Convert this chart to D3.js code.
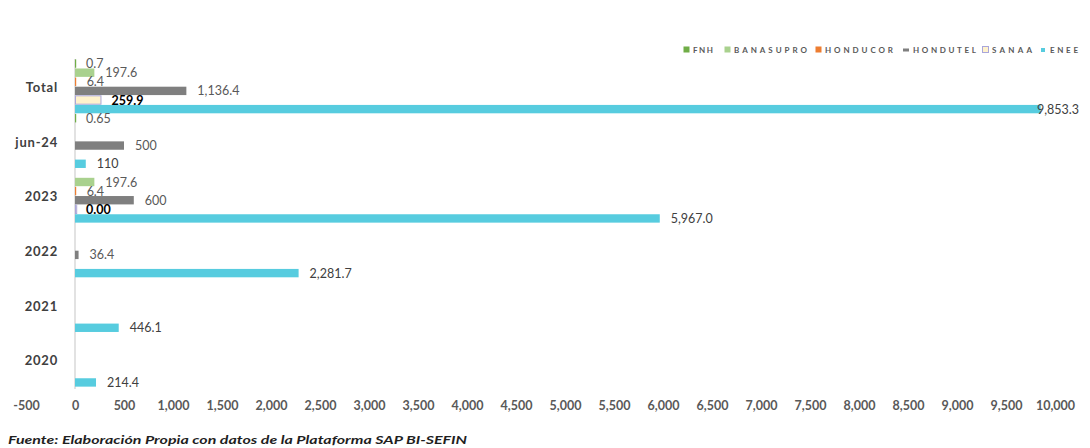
<!DOCTYPE html>
<html><head><meta charset="utf-8">
<script src="https://cdn.jsdelivr.net/npm/d3@7"></script>
<style>
html,body{margin:0;padding:0;background:#fff;}
svg{display:block;font-family:Lato,"Open Sans",sans-serif;}
</style></head>
<body>
<svg id="chart" width="1090" height="448"></svg>
<script>
const categories = ["Total","jun-24","2023","2022","2021","2020"];
const seriesNames = ["FNH","BANASUPRO","HONDUCOR","HONDUTEL","SANAA","ENEE"];
const FNH       = [0.7, 0.65, null, null, null, null];
const BANASUPRO = [197.6, null, 197.6, null, null, null];
const HONDUCOR  = [6.4, null, 6.4, null, null, null];
const HONDUTEL  = [1136.4, 500, 600, 36.4, null, null];
const SANAA     = [259.9, null, 0.0, null, null, null];
const ENEE      = [9853.3, 110, 5967.0, 2281.7, 446.1, 214.4];
const FNHLabels       = ["0.7","0.65","","","",""];
const BANASUPROLabels = ["197.6","","197.6","","",""];
const HONDUCORLabels  = ["6.4","","6.4","","",""];
const HONDUTELLabels  = ["1,136.4","500","600","36.4","",""];
const SANAALabels     = ["259.9","","0.00","","",""];
const ENEELabels      = ["9,853.3","110","5,967.0","2,281.7","446.1","214.4"];
const tickValues = [-500,0,500,1000,1500,2000,2500,3000,3500,4000,4500,5000,5500,6000,6500,7000,7500,8000,8500,9000,9500,10000];

const seriesValues = [FNH,BANASUPRO,HONDUCOR,HONDUTEL,SANAA,ENEE];
const seriesLabels = [FNHLabels,BANASUPROLabels,HONDUCORLabels,HONDUTELLabels,SANAALabels,ENEELabels];
const fills   = ["#70AD47","#A9D18E","#ED7D31","#7F7F7F","#FFF2CC","#57CCDF"];
const strokes = ["none","none","none","none","#A9A6DA","none"];

const svg = d3.select("#chart");
const x = d3.scaleLinear().domain([-500,10000]).range([26,1055]);
const y0 = d3.scaleBand().domain(categories).range([59,387]);
const y1 = d3.scaleBand().domain(seriesNames).range([0,y0.bandwidth()]).paddingInner(0.08).paddingOuter(0.04);

// vertical axis line
svg.append("line").attr("x1",x(0)).attr("x2",x(0)).attr("y1",59).attr("y2",389)
  .attr("stroke","#D9D9D9").attr("stroke-width",1.5);

// bars
const points = [];
seriesNames.forEach((s,si)=>{
  categories.forEach((c,ci)=>{
    const v = seriesValues[si][ci];
    if(v===null) return;
    points.push({s,si,c,v,label:seriesLabels[si][ci]});
  });
});
svg.append("g").selectAll("rect").data(points).join("rect")
  .attr("x",d=>x(0)+ (strokes[d.si]!=="none"?0.5:0))
  .attr("y",d=>y0(d.c)+y1(d.s))
  .attr("width",d=>Math.max(1.2, x(d.v)-x(0)))
  .attr("height",y1.bandwidth())
  .attr("fill",d=>fills[d.si])
  .attr("stroke",d=>strokes[d.si])
  .attr("stroke-width",1);

// labels
svg.append("g").selectAll("text").data(points.filter(d=>d.label)).join("text")
  .attr("x",d=>Math.min(x(d.v)+11, 1037))
  .attr("y",d=>y0(d.c)+y1(d.s)+y1.bandwidth()/2)
  .attr("dy","0.36em")
  .attr("font-size",12.5)
  .attr("font-weight",d=>d.s==="SANAA"?"bold":"normal")
  .attr("fill",d=>d.s==="SANAA"?"#000":(d.s==="ENEE"?"#404040":"#595959"))
  .text(d=>d.label);

// category labels
svg.append("g").selectAll("text").data(categories).join("text")
  .attr("x",58).attr("y",d=>y0(d)+y0.bandwidth()/2+1).attr("dy","0.36em")
  .attr("text-anchor","end").attr("font-size",13).attr("font-weight","bold")
  .attr("letter-spacing","0.8px")
  .attr("fill","#404040").text(d=>d);

// x axis
const fmt = d=>d3.format(",")(d).replace("\u2212","-");
const ax = svg.append("g").attr("transform","translate(0,401)")
  .call(d3.axisBottom(x).tickValues(tickValues).tickFormat(fmt).tickSize(0).tickPadding(0));
ax.select(".domain").remove();
ax.selectAll("text").attr("font-family","Lato,'Open Sans',sans-serif").attr("font-size",12.5)
  .attr("font-weight","bold").attr("fill","#595959");

// legend
const legendX = [683,724,815,903,982,1040];
const legendTextW = [20,73,68,63,40,28];
const lg = svg.append("g").attr("transform","translate(0,50)");
seriesNames.forEach((s,i)=>{
  const g = lg.append("g").attr("transform",`translate(${legendX[i]},0)`);
  if(s==="HONDUTEL"){
    g.append("rect").attr("x",0).attr("y",-1.5).attr("width",6).attr("height",3).attr("fill",fills[i]);
  } else if(s==="ENEE"){
    g.append("rect").attr("x",1).attr("y",-2).attr("width",4).attr("height",4).attr("fill",fills[i]);
  } else {
    g.append("rect").attr("x",0.5).attr("y",-3.5).attr("width",6).attr("height",6)
      .attr("fill",fills[i]).attr("stroke",strokes[i]);
  }
  g.append("text").attr("x",10).attr("y",0).attr("dy","0.35em")
    .attr("font-size",8).attr("font-weight","bold").attr("fill","#595959")
    .attr("textLength",legendTextW[i]).attr("lengthAdjust","spacing").text(s);
});

// source
svg.append("text").attr("x",8).attr("y",444).attr("font-size",11)
  .attr("font-style","italic").attr("font-weight","bold").attr("fill","#1F1F1F")
  .attr("textLength",459).attr("lengthAdjust","spacingAndGlyphs")
  .text("Fuente: Elaboración Propia con datos de la Plataforma SAP BI-SEFIN");
</script>
</body></html>
